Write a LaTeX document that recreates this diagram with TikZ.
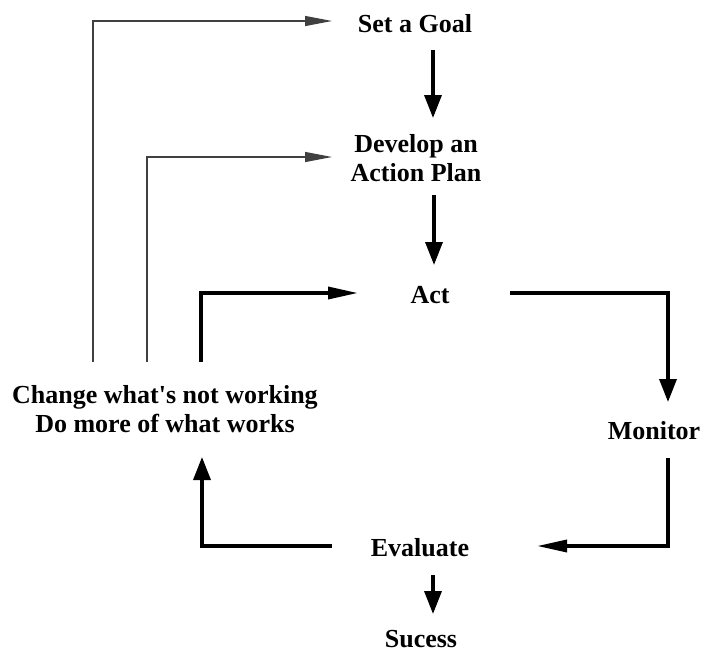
\documentclass[tikz,border=0pt]{standalone}
\usepackage{fontspec}
\setmainfont{Liberation Serif}
\usetikzlibrary{arrows.meta,calc}
\begin{document}
\begin{tikzpicture}[x=1pt,y=-1pt,
  lbl/.style={font=\bfseries\fontsize{26}{29}\selectfont, inner sep=0pt, anchor=base, align=center},
  thickln/.style={line width=3.5pt, line join=miter},
  thinln/.style={line width=1.2pt, draw=black!75},
  vhead/.style={-{Triangle[length=23pt,width=17pt]}},
  hhead/.style={-{Triangle[length=30pt,width=12pt]}},
  thinhead/.style={-{Triangle[length=27pt,width=10pt]}}]
\useasboundingbox (0,0) rectangle (702,654);

% (for two-line labels, base = baseline of the last line)
\node[lbl] (goal) at (415,32) {Set a Goal};
\node[lbl] (plan) at (416,181) {Develop an\\Action Plan};
\node[lbl] (act) at (430,303) {Act};
\node[lbl] (mon) at (654,439) {Monitor};
\node[lbl] (eval) at (420,556) {Evaluate};
\node[lbl] (succ) at (421,647) {Sucess};
\node[lbl] (change) at (165,432) {Change what\textquotesingle s not working\\Do more of what works};

% main cycle
\draw[thickln,vhead] ($(goal.base)+(18,18)$) -- ($(plan.base)+(17,-63)$);
\draw[thickln,vhead] ($(plan.base)+(18,14)$) -- ($(act.base)+(4,-38)$);
\draw[thickln,vhead] ($(act.base)+(80,-10)$) -| ($(mon.base)+(14,-37)$);
\draw[thickln,hhead] ($(mon.base)+(14,19)$) |- ($(eval.base)+(117,-10)$);
\draw[thickln,vhead] ($(eval.base)+(13,19)$) -- ($(succ.base)+(12,-33)$);
\draw[thickln,vhead] ($(eval.base)+(-88,-10)$) -| ($(change.base)+(37,25)$);
\draw[thickln,hhead] ($(change.base)+(36,-70)$) |- ($(act.base)+(-72,-10)$);

% feedback to goal and plan
\draw[thinln,thinhead] ($(change.base)+(-72,-70)$) |- ($(goal.base)+(-83,-11)$);
\draw[thinln,thinhead] ($(change.base)+(-18,-70)$) |- ($(plan.base)+(-84,-24)$);
\end{tikzpicture}
\end{document}
